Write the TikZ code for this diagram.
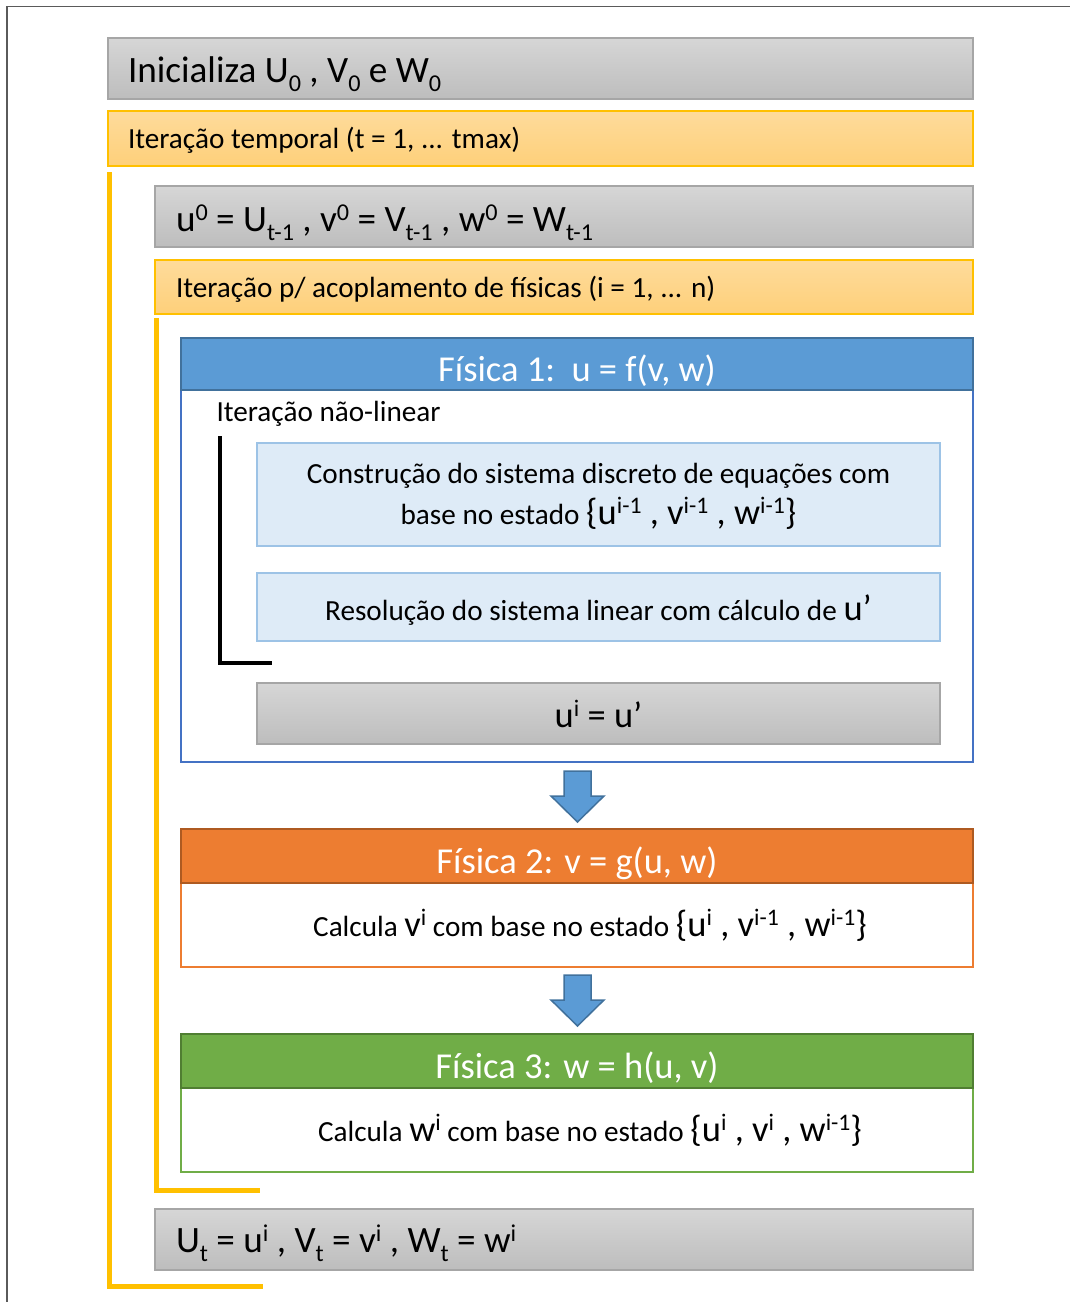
\documentclass[tikz,border=0pt]{standalone}
\usepackage{fontspec}
\setmainfont{Carlito}

% colours
\definecolor{framecol}{HTML}{5A5A5A}
\definecolor{graytop}{HTML}{D6D6D6}
\definecolor{graybot}{HTML}{BDBDBD}
\definecolor{grayline}{HTML}{A6A6A6}
\definecolor{ylwtop}{HTML}{FEDB9B}
\definecolor{ylwbot}{HTML}{FED07A}
\definecolor{ylwline}{HTML}{FFC000}
\definecolor{bluehead}{HTML}{5B9BD5}
\definecolor{blueedge}{HTML}{41719C}
\definecolor{bluebody}{HTML}{4472C4}
\definecolor{paleblue}{HTML}{DEEBF7}
\definecolor{palebluel}{HTML}{9DC3E6}
\definecolor{orangehead}{HTML}{ED7D31}
\definecolor{orangeedge}{HTML}{AE5A21}
\definecolor{greenhead}{HTML}{70AD47}
\definecolor{greenedge}{HTML}{507E32}

% superscript, subscript and enlarged symbols
\newcommand\sps[1]{\raisebox{0.29em}{\scalebox{0.65}{#1}}}
\newcommand\sbs[1]{\raisebox{-0.26em}{\scalebox{0.65}{#1}}}
\newcommand\bigtxt[1]{{\fontsize{36.5}{40}\selectfont #1}}

\begin{document}
\begin{tikzpicture}[x=1pt,y=-1pt,
  box/.style={rectangle, inner sep=0, outer sep=0},
  graybox/.style={box, top color=graytop, bottom color=graybot, draw=grayline, line width=1.5},
  loopbox/.style={box, top color=ylwtop, bottom color=ylwbot, draw=ylwline, line width=1.5},
  stepbox/.style={box, fill=paleblue, draw=palebluel, line width=1.5},
  headbox/.style={box, line width=2},
  bodybox/.style={box, fill=white, line width=2},
  txt/.style={inner sep=0, outer sep=0, font=\fontsize{29.2}{34}\selectfont},
  bigt/.style={inner sep=0, outer sep=0, font=\fontsize{37.2}{44}\selectfont},
  headt/.style={inner sep=0, outer sep=0, text=white, font=\fontsize{36.5}{42}\selectfont},
  ybar/.style={draw=ylwline, line width=5},
  kbar/.style={draw=black, line width=3.5},
  blockarrow/.style={fill=bluehead, draw=blueedge, line width=1.5, line join=miter}
]
\useasboundingbox (0,0) rectangle (1070,1302);

% outer frame
\draw[framecol, line width=1.5] (7,1302) |- (1070,6.5);

% initialisation and time loop
\node[graybox, minimum width=865, minimum height=61] (init) at (540.5,68.5) {};
\node[bigt, anchor=base west] (initT) at (128,82) {Inicializa U\sbs{0} , V\sbs{0} e W\sbs{0}};

\node[loopbox, minimum width=865, minimum height=55] (tloop) at (540.5,138.5) {};
\node[txt, anchor=base west] (tloopT) at (128,148) {Iteração temporal (t = 1, ... tmax)};

\node[graybox, minimum width=818, minimum height=61] (prev) at (564,216.5) {};
\node[bigt, anchor=base west] (prevT) at (176,231)
  {u\sps{0} = U\sbs{t-1} , v\sps{0} = V\sbs{t-1} , w\sps{0} = W\sbs{t-1}};

\node[loopbox, minimum width=818, minimum height=54] (iloop) at (564,287) {};
\node[txt, anchor=base west] (iloopT) at (176,297)
  {Iteração p/ acoplamento de físicas (i = 1, ... n)};

% physics 1
\node[bodybox, draw=bluebody, minimum width=792, minimum height=372] (f1body) at (577,576) {};
\node[headbox, fill=bluehead, draw=blueedge, minimum width=792, minimum height=52] (f1head) at (577,364) {};
\node[headt, anchor=base] (f1T) at (577,381) {Física 1:\ \ u = f(v, w)};
\node[txt, anchor=base west] (nlT) at (216.5,421) {Iteração não-linear};

\node[stepbox, minimum width=683, minimum height=103] (build) at (598.5,494.5) {};
\node[txt, anchor=base] (buildA) at (598.5,483) {Construção do sistema discreto de equações com};
\node[txt, anchor=base] (buildB) at (598.5,524)
  {base no estado \bigtxt{\{u\sps{i-1} , v\sps{i-1} , w\sps{i-1}\}}};

\node[stepbox, minimum width=683, minimum height=68] (solve) at (598.5,607) {};
\node[txt, anchor=base] (solveT) at (598.5,620)
  {Resolução do sistema linear com cálculo de \bigtxt{u’}};

\node[graybox, minimum width=683, minimum height=61] (upd) at (598.5,713.5) {};
\node[headt, text=black, anchor=base] (updT) at (598.5,727) {u\sps{i} = u’};

% non-linear loop bracket
\coordinate (nlA) at (220,436);
\coordinate (nlB) at (272,663);
\draw[kbar] (nlA) |- (nlB);

% arrow to physics 2
\draw[blockarrow] (564,771) -- (591,771) -- (591,796) -- (604,796) -- (577.5,822)
  -- (551,796) -- (564,796) -- cycle;

% physics 2
\node[bodybox, draw=orangehead, minimum width=792, minimum height=84] (f2body) at (577,925) {};
\node[headbox, fill=orangehead, draw=orangeedge, minimum width=792, minimum height=54] (f2head) at (577,856) {};
\node[headt, anchor=base] (f2T) at (577,873) {Física 2: v = g(u, w)};
\node[txt, anchor=base] (f2B) at (590,936)
  {Calcula \bigtxt{v\sps{i}} com base no estado \bigtxt{\{u\sps{i} , v\sps{i-1} , w\sps{i-1}\}}};

% arrow to physics 3
\draw[blockarrow] (564,975) -- (591,975) -- (591,1000) -- (604,1000) -- (577.5,1026)
  -- (551,1000) -- (564,1000) -- cycle;

% physics 3
\node[bodybox, draw=greenhead, minimum width=792, minimum height=84] (f3body) at (577,1130) {};
\node[headbox, fill=greenhead, draw=greenedge, minimum width=792, minimum height=54] (f3head) at (577,1061) {};
\node[headt, anchor=base] (f3T) at (577,1078) {Física 3: w = h(u, v)};
\node[txt, anchor=base] (f3B) at (590,1141)
  {Calcula \bigtxt{w\sps{i}} com base no estado \bigtxt{\{u\sps{i} , v\sps{i} , w\sps{i-1}\}}};

% coupling loop bracket
\coordinate (cpA) at (156,318);
\coordinate (cpB) at (260,1190);
\draw[ybar] (cpA) |- (cpB);

% final update
\node[graybox, minimum width=818, minimum height=61] (final) at (564,1239.5) {};
\node[bigt, anchor=base west] (finalT) at (176,1252)
  {U\sbs{t} = u\sps{i} , V\sbs{t} = v\sps{i} , W\sbs{t} = w\sps{i}};

% time loop bracket
\coordinate (tmA) at (109,172);
\coordinate (tmB) at (263,1286);
\draw[ybar] (tmA) |- (tmB);
\end{tikzpicture}
\end{document}
